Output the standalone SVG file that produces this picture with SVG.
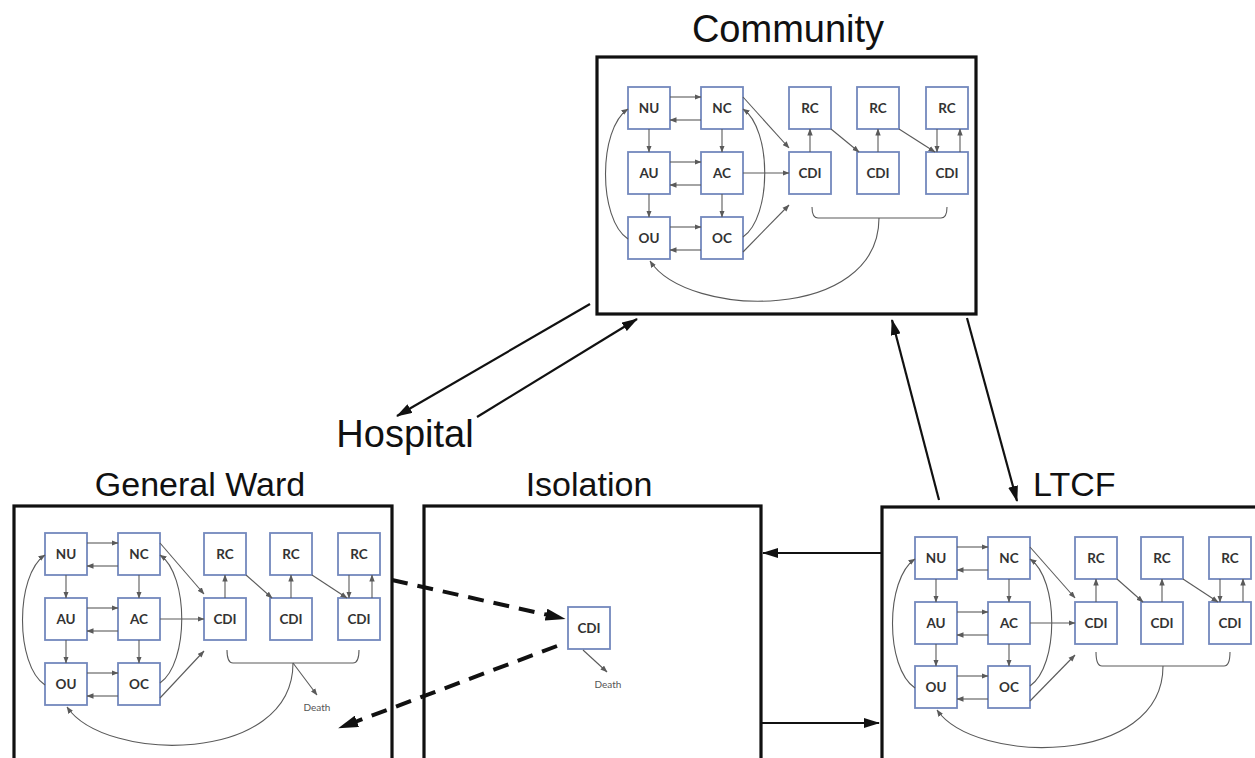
<svg xmlns="http://www.w3.org/2000/svg" width="1255" height="758" viewBox="0 0 1255 758">
<style>
.bg{fill:#ffffff}
.box{fill:#ffffff;stroke:#111;stroke-width:3.2}
.title{font-family:"Liberation Sans",Arial,sans-serif;fill:#111;text-anchor:middle}
.n rect{fill:#ffffff;stroke:#7388bd;stroke-width:1.8}
.n text{font-family:Lato,"Open Sans",sans-serif;font-weight:bold;font-size:13.5px;fill:#333;text-anchor:middle}
.small{font-family:Lato,"Open Sans",sans-serif;font-size:10px;fill:#555;text-anchor:middle}
.in{fill:none;stroke:#5a5a5a;stroke-width:1.1;marker-end:url(#ah)}
.br{fill:none;stroke:#5a5a5a;stroke-width:1.1}
.big{fill:none;stroke:#111;stroke-width:2.2;marker-end:url(#bh)}
.dash{fill:none;stroke:#111;stroke-width:4;stroke-dasharray:16 10;marker-end:url(#dh)}
</style>
<defs>
<marker id="ah" markerUnits="userSpaceOnUse" markerWidth="7" markerHeight="6" refX="6.5" refY="3" orient="auto"><path d="M0,0.3 L7,3 L0,5.7 z" fill="#5a5a5a"/></marker>
<marker id="bh" markerUnits="userSpaceOnUse" markerWidth="16" markerHeight="10" refX="15" refY="5" orient="auto"><path d="M0,0 L16,5 L0,10 z" fill="#111"/></marker>
<marker id="dh" markerUnits="userSpaceOnUse" markerWidth="20" markerHeight="12" refX="2" refY="6" orient="auto"><path d="M0,0 L20,6 L0,12 z" fill="#111"/></marker>
</defs>
<rect class="bg" x="0" y="0" width="1255" height="758"/>

<!-- Setting boxes -->
<g id="community">
<rect class="box" x="597" y="57" width="379" height="257"/>
<text class="title" x="788" y="42" font-size="38">Community</text>
</g>
<g id="hospital-label">
<text class="title" x="405" y="447" font-size="38">Hospital</text>
</g>
<g id="general-ward">
<rect class="box" x="14" y="506" width="378" height="270"/>
<text class="title" x="200" y="496" font-size="34">General Ward</text>
</g>
<g id="isolation">
<rect class="box" x="424" y="506" width="337" height="270"/>
<text class="title" x="589" y="496" font-size="34">Isolation</text>
</g>
<g id="ltcf">
<rect class="box" x="882" y="507" width="400" height="270"/>
<text class="title" x="1033" y="496" font-size="34" style="text-anchor:start">LTCF</text>
</g>

<!-- Community sub-model -->
<g id="community-model" transform="translate(628,87)">
<g id="c-NU" class="n"><rect x="0" y="0" width="42" height="42"/><text x="21" y="26">NU</text></g>
<g id="c-NC" class="n"><rect x="73" y="0" width="42" height="42"/><text x="94" y="26">NC</text></g>
<g id="c-AU" class="n"><rect x="0" y="65" width="42" height="42"/><text x="21" y="91">AU</text></g>
<g id="c-AC" class="n"><rect x="73" y="65" width="42" height="42"/><text x="94" y="91">AC</text></g>
<g id="c-OU" class="n"><rect x="0" y="130" width="42" height="42"/><text x="21" y="156">OU</text></g>
<g id="c-OC" class="n"><rect x="73" y="130" width="42" height="42"/><text x="94" y="156">OC</text></g>
<g id="c-RC1" class="n"><rect x="161" y="0" width="42" height="42"/><text x="182" y="26">RC</text></g>
<g id="c-CDI1" class="n"><rect x="161" y="65" width="42" height="42"/><text x="182" y="91">CDI</text></g>
<g id="c-RC2" class="n"><rect x="229" y="0" width="42" height="42"/><text x="250" y="26">RC</text></g>
<g id="c-CDI2" class="n"><rect x="229" y="65" width="42" height="42"/><text x="250" y="91">CDI</text></g>
<g id="c-RC3" class="n"><rect x="298" y="0" width="42" height="42"/><text x="319" y="26">RC</text></g>
<g id="c-CDI3" class="n"><rect x="298" y="65" width="42" height="42"/><text x="319" y="91">CDI</text></g>
<g id="c-connectors">
<path class="in" d="M42,10 H73"/><path class="in" d="M73,33 H42"/>
<path class="in" d="M42,75 H73"/><path class="in" d="M73,98 H42"/>
<path class="in" d="M42,140 H73"/><path class="in" d="M73,163 H42"/>
<path class="in" d="M21,42 V65"/><path class="in" d="M94,42 V65"/>
<path class="in" d="M21,107 V130"/><path class="in" d="M94,107 V130"/>
<path class="in" d="M115,10 L161,61"/>
<path class="in" d="M115,86 H161"/>
<path class="in" d="M115,165 L161,118"/>
<path class="in" d="M115,150 C144,130 144,42 115,22"/>
<path class="in" d="M0,152 C-30,132 -30,42 0,22"/>
<path class="in" d="M182,65 V42"/>
<path class="in" d="M203,42 L231,65"/>
<path class="in" d="M250,65 V42"/>
<path class="in" d="M271,42 L307,65"/>
<path class="in" d="M309,42 V65"/>
<path class="in" d="M332,65 V42"/>
<path class="br" d="M184,120 Q184,131 190,131 H313 Q319,131 319,120"/>
<path class="in" d="M251,131 C251,235 60,232 22,174"/>
</g>
</g>

<!-- General Ward sub-model -->
<g id="ward-model" transform="translate(45,533)">
<g id="w-NU" class="n"><rect x="0" y="0" width="42" height="42"/><text x="21" y="26">NU</text></g>
<g id="w-NC" class="n"><rect x="73" y="0" width="42" height="42"/><text x="94" y="26">NC</text></g>
<g id="w-AU" class="n"><rect x="0" y="65" width="42" height="42"/><text x="21" y="91">AU</text></g>
<g id="w-AC" class="n"><rect x="73" y="65" width="42" height="42"/><text x="94" y="91">AC</text></g>
<g id="w-OU" class="n"><rect x="0" y="130" width="42" height="42"/><text x="21" y="156">OU</text></g>
<g id="w-OC" class="n"><rect x="73" y="130" width="42" height="42"/><text x="94" y="156">OC</text></g>
<g id="w-RC1" class="n"><rect x="159" y="0" width="42" height="42"/><text x="180" y="26">RC</text></g>
<g id="w-CDI1" class="n"><rect x="159" y="65" width="42" height="42"/><text x="180" y="91">CDI</text></g>
<g id="w-RC2" class="n"><rect x="225" y="0" width="42" height="42"/><text x="246" y="26">RC</text></g>
<g id="w-CDI2" class="n"><rect x="225" y="65" width="42" height="42"/><text x="246" y="91">CDI</text></g>
<g id="w-RC3" class="n"><rect x="293" y="0" width="42" height="42"/><text x="314" y="26">RC</text></g>
<g id="w-CDI3" class="n"><rect x="293" y="65" width="42" height="42"/><text x="314" y="91">CDI</text></g>
<g id="w-death"><text class="small" x="272" y="178">Death</text></g>
<g id="w-connectors">
<path class="in" d="M42,10 H73"/><path class="in" d="M73,33 H42"/>
<path class="in" d="M42,75 H73"/><path class="in" d="M73,98 H42"/>
<path class="in" d="M42,140 H73"/><path class="in" d="M73,163 H42"/>
<path class="in" d="M21,42 V65"/><path class="in" d="M94,42 V65"/>
<path class="in" d="M21,107 V130"/><path class="in" d="M94,107 V130"/>
<path class="in" d="M115,10 L159,61"/>
<path class="in" d="M115,86 H159"/>
<path class="in" d="M115,165 L159,118"/>
<path class="in" d="M115,150 C144,130 144,42 115,22"/>
<path class="in" d="M0,152 C-30,132 -30,42 0,22"/>
<path class="in" d="M180,65 V42"/>
<path class="in" d="M201,42 L227,65"/>
<path class="in" d="M246,65 V42"/>
<path class="in" d="M267,42 L302,65"/>
<path class="in" d="M304,42 V65"/>
<path class="in" d="M327,65 V42"/>
<path class="br" d="M182,117 Q182,130 188,130 H308 Q314,130 314,117"/>
<path class="in" d="M248,130 L272,162"/>
<path class="in" d="M248,130 C248,232 60,230 22,174"/>
</g>
</g>

<!-- LTCF sub-model -->
<g id="ltcf-model" transform="translate(915,537)">
<g id="l-NU" class="n"><rect x="0" y="0" width="42" height="42"/><text x="21" y="26">NU</text></g>
<g id="l-NC" class="n"><rect x="73" y="0" width="42" height="42"/><text x="94" y="26">NC</text></g>
<g id="l-AU" class="n"><rect x="0" y="65" width="42" height="42"/><text x="21" y="91">AU</text></g>
<g id="l-AC" class="n"><rect x="73" y="65" width="42" height="42"/><text x="94" y="91">AC</text></g>
<g id="l-OU" class="n"><rect x="0" y="129" width="42" height="42"/><text x="21" y="155">OU</text></g>
<g id="l-OC" class="n"><rect x="73" y="129" width="42" height="42"/><text x="94" y="155">OC</text></g>
<g id="l-RC1" class="n"><rect x="160" y="0" width="42" height="42"/><text x="181" y="26">RC</text></g>
<g id="l-CDI1" class="n"><rect x="160" y="65" width="42" height="42"/><text x="181" y="91">CDI</text></g>
<g id="l-RC2" class="n"><rect x="226" y="0" width="42" height="42"/><text x="247" y="26">RC</text></g>
<g id="l-CDI2" class="n"><rect x="226" y="65" width="42" height="42"/><text x="247" y="91">CDI</text></g>
<g id="l-RC3" class="n"><rect x="294" y="0" width="42" height="42"/><text x="315" y="26">RC</text></g>
<g id="l-CDI3" class="n"><rect x="294" y="65" width="42" height="42"/><text x="315" y="91">CDI</text></g>
<g id="l-connectors">
<path class="in" d="M42,10 H73"/><path class="in" d="M73,33 H42"/>
<path class="in" d="M42,75 H73"/><path class="in" d="M73,98 H42"/>
<path class="in" d="M42,139 H73"/><path class="in" d="M73,162 H42"/>
<path class="in" d="M21,42 V65"/><path class="in" d="M94,42 V65"/>
<path class="in" d="M21,107 V129"/><path class="in" d="M94,107 V129"/>
<path class="in" d="M115,10 L160,61"/>
<path class="in" d="M115,86 H160"/>
<path class="in" d="M115,164 L160,118"/>
<path class="in" d="M115,149 C144,129 144,42 115,22"/>
<path class="in" d="M0,151 C-30,131 -30,42 0,22"/>
<path class="in" d="M181,65 V42"/>
<path class="in" d="M202,42 L228,65"/>
<path class="in" d="M247,65 V42"/>
<path class="in" d="M268,42 L303,65"/>
<path class="in" d="M305,42 V65"/>
<path class="in" d="M328,65 V42"/>
<path class="br" d="M181,115 Q181,129 187,129 H309 Q315,129 315,115"/>
<path class="in" d="M248,129 C248,230 60,228 22,173"/>
</g>
</g>

<!-- Isolation node -->
<g id="iso-CDI" class="n"><rect x="568" y="607" width="42" height="42"/><text x="589" y="633">CDI</text></g>
<g id="iso-death"><text class="small" x="608" y="688">Death</text></g>

<!-- Connectors between settings -->
<g id="connectors">
<path class="in" d="M583,650 L607,672"/>
<path class="big" d="M590,304 L397,416"/>
<path class="big" d="M477,417 L637,319"/>
<path class="big" d="M939,500 L892,320"/>
<path class="big" d="M967,318 L1017,501"/>
<path class="big" d="M882,553 L763,553"/>
<path class="big" d="M762,723 L879,723"/>
<path class="dash" d="M392,580 L548,615"/>
<path class="dash" d="M557,646 L355,722"/>
</g>
</svg>
